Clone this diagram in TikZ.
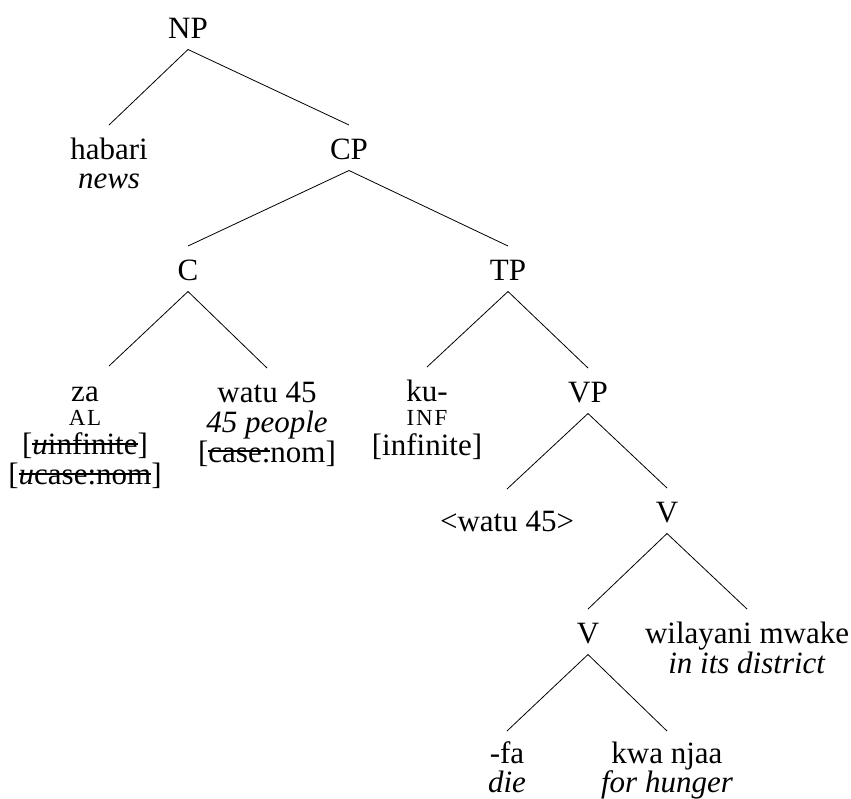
\documentclass[tikz,border=0pt]{standalone}
\usepackage{fontspec}
\setmainfont{Liberation Serif}
\usepackage{tikz}
\usetikzlibrary{positioning}

% struck-through feature, small-caps gloss, stacked lines
\newcommand{\strk}[1]{\setbox0=\hbox{#1}\rlap{\rule[10pt]{\wd0}{2pt}}\box0}
\newcommand{\sclabel}[1]{{\fontsize{23}{23}\selectfont\addfontfeature{LetterSpace=8}#1}}
\newcommand{\stack}[1]{\begin{tabular}[t]{@{}c@{}}#1\end{tabular}}

\begin{document}
\begin{tikzpicture}[x=1pt, y=-1pt, line width=0.8pt,
    every node/.style={inner sep=0pt, text height=22.5pt, text depth=0pt,
        outer ysep=11.5pt, anchor=base, font=\fontsize{31}{29}\selectfont}]
    \useasboundingbox (0, 0) rectangle (851, 798);
    \node (np) at (188, 38) {NP};
    \node (habari) at (109, 159) {\stack{habari\\\textit{news}}};
    \node (cp) at (349, 159) {CP};
    \node (c) at (188, 280) {C};
    \node (tp) at (508, 280) {TP};
    \node (za) at (85, 401) {\stack{za\\[-5pt]\sclabel{AL}\\[-1pt]{[}\strk{\textit{u}infinite}]\\{[}\strk{\textit{u}case:nom}]}};
    \node (watu) at (267, 402) {\stack{watu 45\\\textit{45 people}\\{[}\strk{case:}nom]}};
    \node (ku) at (427, 401) {\stack{ku-\\[-5pt]\sclabel{INF}\\{[}infinite]}};
    \node (vp) at (588, 402) {VP};
    \node (trace) at (507, 531) {<watu 45>};
    \node (vbar) at (667, 522) {V};
    \node (v) at (588, 643) {V};
    \node (wilayani) at (747, 643) {\stack{wilayani mwake\\\textit{in its district}}};
    \node (fa) at (507, 763) {\stack{-fa\\[-1pt]\textit{die}}};
    \node (kwa) at (667, 763) {\stack{kwa njaa\\[-1pt]\textit{for hunger}}};
    \draw
    (np.south) -- (habari.north) (np.south) -- (cp.north)
    (cp.south) -- (c.north) (cp.south) -- (tp.north)
    (c.south) -- ([xshift=24pt,yshift=1pt]za.north) (c.south) -- (watu.north)
    (tp.south) -- (ku.north) (tp.south) -- (vp.north)
    (vp.south) -- ([yshift=8pt]trace.north) (vp.south) -- (vbar.north)
    (vbar.south) -- (v.north) (vbar.south) -- (wilayani.north)
    (v.south) -- ([yshift=-2pt]fa.north) (v.south) -- ([yshift=-2pt]kwa.north);
\end{tikzpicture}
\end{document}
